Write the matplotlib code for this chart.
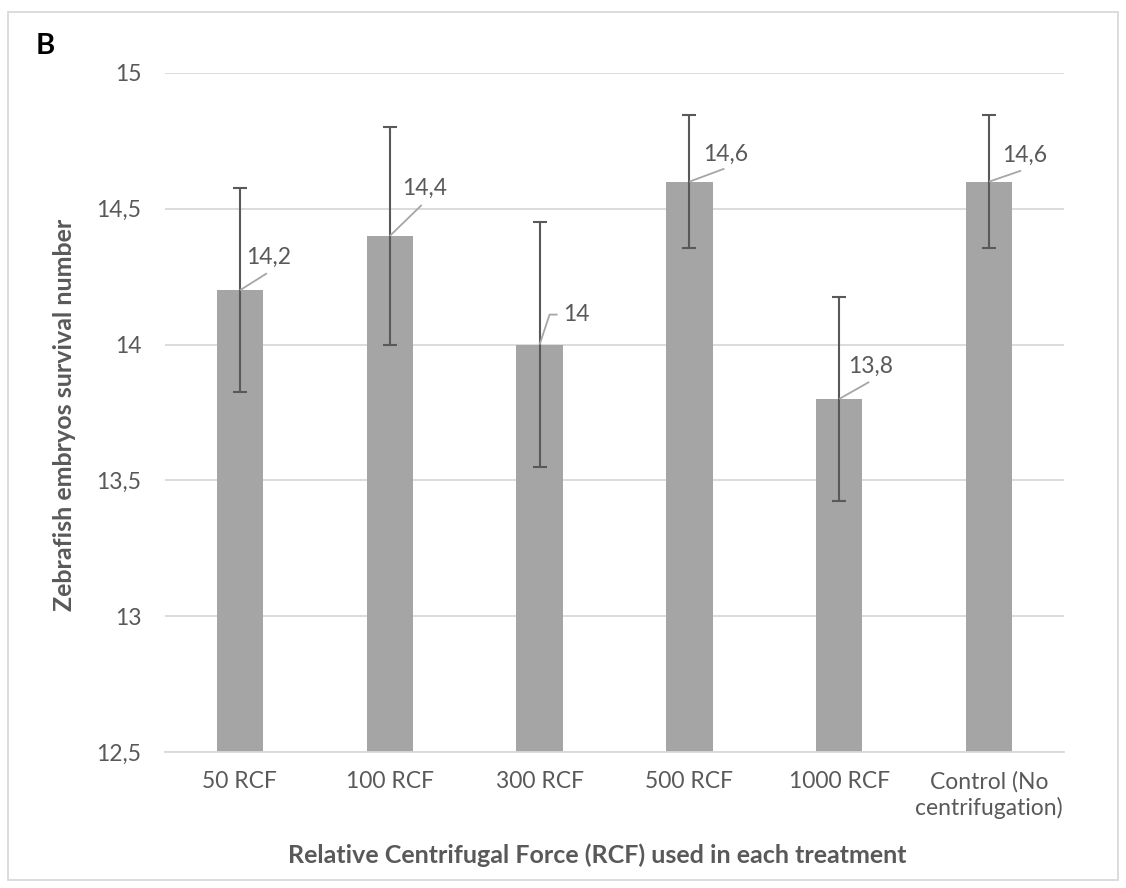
import matplotlib
matplotlib.use("Agg")
import matplotlib.pyplot as plt
from matplotlib.patches import Rectangle

# Survival counts per centrifugation treatment
categories = ["50 RCF", "100 RCF", "300 RCF", "500 RCF", "1000 RCF", "Control (No\ncentrifugation)"]
survival = [14.2, 14.4, 14.0, 14.6, 13.8, 14.6]
errors = [0.375, 0.4, 0.45, 0.245, 0.375, 0.245]
value_labels = ["14,2", "14,4", "14", "14,6", "13,8", "14,6"]

# leader line vertices / label offsets in pixels from the bar top
leader_pts = [
    [(27, 17)],
    [(32, 31)],
    [(10, 30), (18, 30)],
    [(35, 13)],
    [(30, 17)],
    [(32, 11)],
]
label_pos = [(6, 33), (12, 48), (24, 30), (14, 27), (9, 33), (13, 26)]

plt.rcParams["font.family"] = ["Lato", "DejaVu Sans"]
TEXT = "#595959"
GRID = "#D9D9D9"
LEADER = "#A6A6A6"

fig = plt.figure(figsize=(11.26, 8.88), dpi=100)
ax = fig.add_axes([165 / 1126, 1 - 752 / 888, (1064 - 165) / 1126, (752 - 73) / 888])

x = list(range(len(categories)))
ax.bar(x, survival, width=0.31, color="#A5A5A5", zorder=2)
ax.errorbar(x, survival, yerr=errors, fmt="none", ecolor=TEXT, elinewidth=1.5,
            capsize=5, capthick=1.5, zorder=3)

ax.set_ylim(12.5, 15)
ax.set_xlim(-0.5, len(categories) - 0.5)

# data labels with leader lines
trans = ax.transData
inv = trans.inverted()
for xi, v, lab, pts, (tx, ty) in zip(x, survival, value_labels, leader_pts, label_pos):
    bx, by = trans.transform((xi, v))
    px = [xi]
    py = [v]
    for dx, dy in pts:
        qx, qy = inv.transform((bx + dx, by + dy))
        px.append(qx)
        py.append(qy)
    ax.plot(px, py, color=LEADER, lw=1.3, zorder=4, solid_capstyle="butt")
    ax.annotate(lab, xy=(xi, v), xytext=(tx, ty), textcoords="offset pixels",
                ha="left", va="center", fontsize=16.5, color=TEXT, zorder=5)

ax.set_yticks([12.5, 13, 13.5, 14, 14.5, 15])
ax.set_yticklabels(["12,5", "13", "13,5", "14", "14,5", "15"])
ax.set_xticks(x)
ax.set_xticklabels(categories)
ax.tick_params(axis="both", length=0, labelsize=16.5, labelcolor=TEXT)
ax.tick_params(axis="y", pad=17)
ax.tick_params(axis="x", pad=14)
ax.grid(axis="y", color=GRID, lw=1.3, zorder=0)
ax.set_axisbelow(True)
for s in ["top", "right", "left"]:
    ax.spines[s].set_visible(False)
ax.spines["bottom"].set_color(GRID)
ax.spines["bottom"].set_linewidth(1.3)

fig.text(65 / 1126, 1 - 415 / 888, "Zebrafish embryos survival number", fontsize=18,
         fontweight="bold", color=TEXT, rotation=90, ha="center", va="center")
fig.text(597 / 1126, 1 - 855 / 888, "Relative Centrifugal Force (RCF) used in each treatment",
         fontsize=18, fontweight="bold", color=TEXT, ha="center", va="center")

fig.text(36 / 1126, 1 - 46 / 888, "B", fontsize=21, fontweight="bold", color="black",
         ha="left", va="center")

fig.patches.append(Rectangle((8 / 1126, 1 - 880 / 888), 1110 / 1126, 868 / 888,
                             transform=fig.transFigure, fill=False, edgecolor=GRID, lw=1.3))

fig.savefig("out.png", dpi=100)
